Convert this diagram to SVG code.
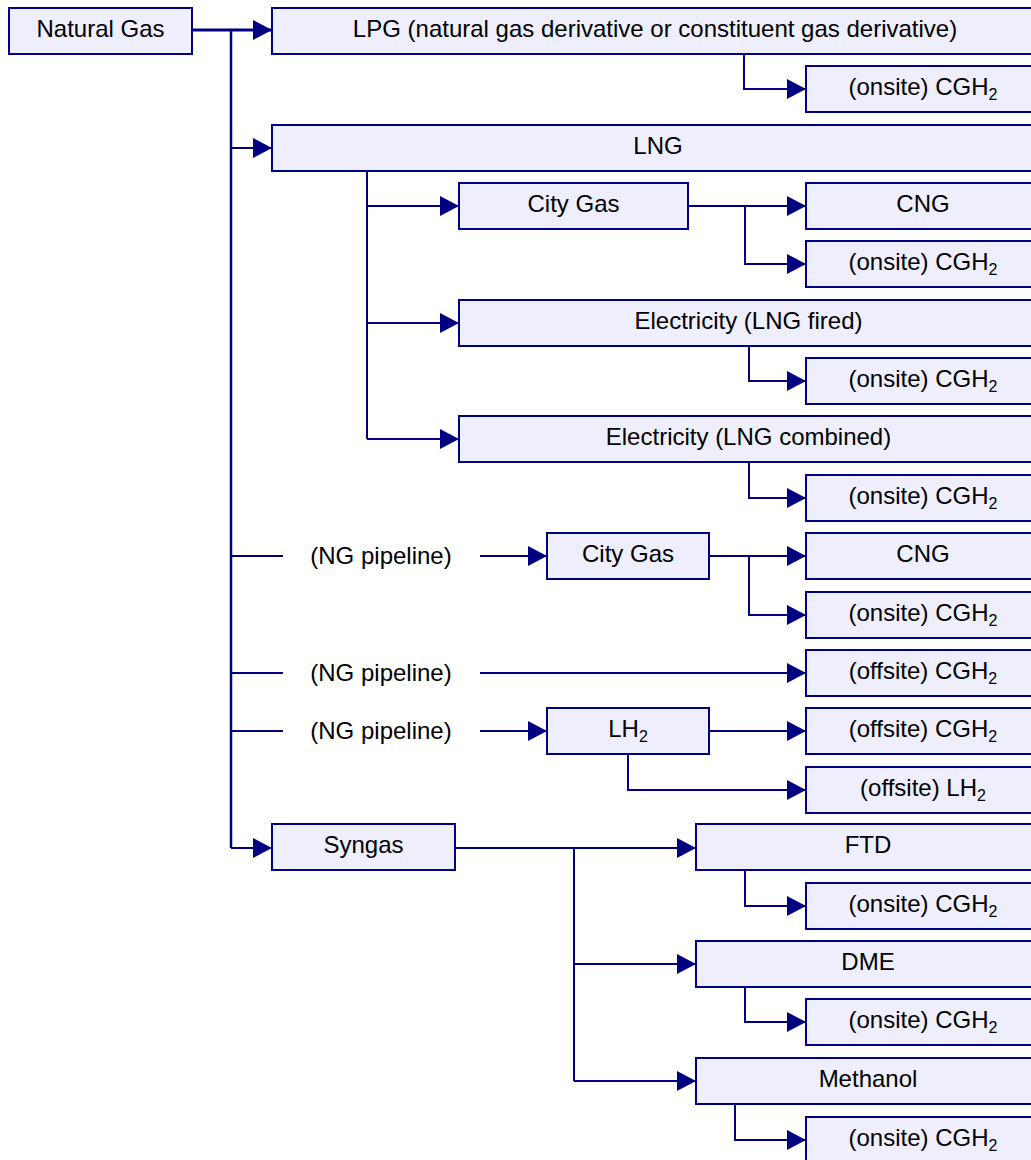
<svg xmlns="http://www.w3.org/2000/svg" width="1031" height="1160" viewBox="0 0 1031 1160">
  <style>
    .box { fill: #EEEEFC; stroke: #000080; stroke-width: 2; }
    .lbl { font-family: "Liberation Sans", Arial, sans-serif; font-size: 24px; fill: #000000; text-anchor: middle; }
    .sub { font-size: 16px; }
    .wire { fill: none; stroke: #000080; stroke-width: 2; }
    .arr { marker-end: url(#head); }
  </style>
  <defs>
    <marker id="head" markerUnits="userSpaceOnUse" markerWidth="19" markerHeight="20" refX="19" refY="10" orient="auto">
      <path d="M0,0 L19,10 L0,20 Z" fill="#000080"/>
    </marker>
  </defs>
  <rect width="1031" height="1160" fill="#FFFFFF"/>

  <!-- connectors -->
  <g id="connectors">
    <path class="wire arr" d="M192,30 H272" style="stroke-width:3"/>
    <path class="wire" d="M231,30 V848" style="stroke-width:2.5"/>
    <path class="wire arr" d="M231,148 H272"/>
    <path class="wire" d="M231,556 H283"/>
    <path class="wire arr" d="M480,556 H547"/>
    <path class="wire" d="M231,673 H283"/>
    <path class="wire arr" d="M480,673 H806"/>
    <path class="wire" d="M231,731 H283"/>
    <path class="wire arr" d="M480,731 H547"/>
    <path class="wire arr" d="M231,848 H272"/>

    <path class="wire arr" d="M744,54 V89 H806"/>

    <path class="wire" d="M367,171 V439"/>
    <path class="wire arr" d="M367,206 H459"/>
    <path class="wire arr" d="M367,323 H459"/>
    <path class="wire arr" d="M367,439 H459"/>
    <path class="wire arr" d="M688,206 H806"/>
    <path class="wire arr" d="M745,206 V264 H806"/>
    <path class="wire arr" d="M749,346 V381 H806"/>
    <path class="wire arr" d="M749,462 V498 H806"/>

    <path class="wire arr" d="M709,556 H806"/>
    <path class="wire arr" d="M749,556 V615 H806"/>
    <path class="wire arr" d="M709,731 H806"/>
    <path class="wire arr" d="M628,754 V790 H806"/>

    <path class="wire arr" d="M455,848 H696"/>
    <path class="wire" d="M574,848 V1081"/>
    <path class="wire arr" d="M574,964 H696"/>
    <path class="wire arr" d="M574,1081 H696"/>
    <path class="wire arr" d="M745,870 V906 H806"/>
    <path class="wire arr" d="M745,987 V1022 H806"/>
    <path class="wire arr" d="M735,1104 V1140 H806"/>
  </g>

  <!-- plain labels on the pipeline branches -->
  <g id="pipeline-labels">
    <text class="lbl" x="381" y="564">(NG pipeline)</text>
    <text class="lbl" x="381" y="681">(NG pipeline)</text>
    <text class="lbl" x="381" y="739">(NG pipeline)</text>
  </g>

  <!-- nodes -->
  <g id="natural-gas">
    <rect class="box" x="9" y="8" width="183" height="46"/>
    <text class="lbl" x="100.5" y="37">Natural Gas</text>
  </g>
  <g id="lpg">
    <rect class="box" x="272" y="8" width="768" height="46"/>
    <text class="lbl" x="655" y="37">LPG (natural gas derivative or constituent gas derivative)</text>
  </g>
  <g id="lpg-cgh2">
    <rect class="box" x="806" y="66" width="234" height="46"/>
    <text class="lbl" x="923" y="95">(onsite) CGH<tspan class="sub" dy="5">2</tspan></text>
  </g>
  <g id="lng">
    <rect class="box" x="272" y="125" width="768" height="46"/>
    <text class="lbl" x="658" y="154">LNG</text>
  </g>
  <g id="lng-city-gas">
    <rect class="box" x="459" y="183" width="229" height="46"/>
    <text class="lbl" x="573.5" y="212">City Gas</text>
  </g>
  <g id="lng-cng">
    <rect class="box" x="806" y="183" width="234" height="46"/>
    <text class="lbl" x="923" y="212">CNG</text>
  </g>
  <g id="lng-cgh2">
    <rect class="box" x="806" y="241" width="234" height="46"/>
    <text class="lbl" x="923" y="270">(onsite) CGH<tspan class="sub" dy="5">2</tspan></text>
  </g>
  <g id="elec-fired">
    <rect class="box" x="459" y="300" width="581" height="46"/>
    <text class="lbl" x="748.5" y="329">Electricity (LNG fired)</text>
  </g>
  <g id="elec-fired-cgh2">
    <rect class="box" x="806" y="358" width="234" height="46"/>
    <text class="lbl" x="923" y="387">(onsite) CGH<tspan class="sub" dy="5">2</tspan></text>
  </g>
  <g id="elec-combined">
    <rect class="box" x="459" y="416" width="581" height="46"/>
    <text class="lbl" x="748.5" y="445">Electricity (LNG combined)</text>
  </g>
  <g id="elec-combined-cgh2">
    <rect class="box" x="806" y="475" width="234" height="46"/>
    <text class="lbl" x="923" y="504">(onsite) CGH<tspan class="sub" dy="5">2</tspan></text>
  </g>
  <g id="pipe-city-gas">
    <rect class="box" x="547" y="533" width="162" height="46"/>
    <text class="lbl" x="628" y="562">City Gas</text>
  </g>
  <g id="pipe-cng">
    <rect class="box" x="806" y="533" width="234" height="46"/>
    <text class="lbl" x="923" y="562">CNG</text>
  </g>
  <g id="pipe-cgh2">
    <rect class="box" x="806" y="592" width="234" height="46"/>
    <text class="lbl" x="923" y="621">(onsite) CGH<tspan class="sub" dy="5">2</tspan></text>
  </g>
  <g id="offsite-cgh2-pipe">
    <rect class="box" x="806" y="650" width="234" height="46"/>
    <text class="lbl" x="923" y="679">(offsite) CGH<tspan class="sub" dy="5">2</tspan></text>
  </g>
  <g id="lh2">
    <rect class="box" x="547" y="708" width="162" height="46"/>
    <text class="lbl" x="628" y="737">LH<tspan class="sub" dy="5">2</tspan></text>
  </g>
  <g id="offsite-cgh2-lh2">
    <rect class="box" x="806" y="708" width="234" height="46"/>
    <text class="lbl" x="923" y="737">(offsite) CGH<tspan class="sub" dy="5">2</tspan></text>
  </g>
  <g id="offsite-lh2">
    <rect class="box" x="806" y="767" width="234" height="46"/>
    <text class="lbl" x="923" y="796">(offsite) LH<tspan class="sub" dy="5">2</tspan></text>
  </g>
  <g id="syngas">
    <rect class="box" x="272" y="824" width="183" height="46"/>
    <text class="lbl" x="363.5" y="853">Syngas</text>
  </g>
  <g id="ftd">
    <rect class="box" x="696" y="824" width="344" height="46"/>
    <text class="lbl" x="868" y="853">FTD</text>
  </g>
  <g id="ftd-cgh2">
    <rect class="box" x="806" y="883" width="234" height="46"/>
    <text class="lbl" x="923" y="912">(onsite) CGH<tspan class="sub" dy="5">2</tspan></text>
  </g>
  <g id="dme">
    <rect class="box" x="696" y="941" width="344" height="46"/>
    <text class="lbl" x="868" y="970">DME</text>
  </g>
  <g id="dme-cgh2">
    <rect class="box" x="806" y="999" width="234" height="46"/>
    <text class="lbl" x="923" y="1028">(onsite) CGH<tspan class="sub" dy="5">2</tspan></text>
  </g>
  <g id="methanol">
    <rect class="box" x="696" y="1058" width="344" height="46"/>
    <text class="lbl" x="868" y="1087">Methanol</text>
  </g>
  <g id="methanol-cgh2">
    <rect class="box" x="806" y="1117" width="234" height="46"/>
    <text class="lbl" x="923" y="1146">(onsite) CGH<tspan class="sub" dy="5">2</tspan></text>
  </g>
</svg>
